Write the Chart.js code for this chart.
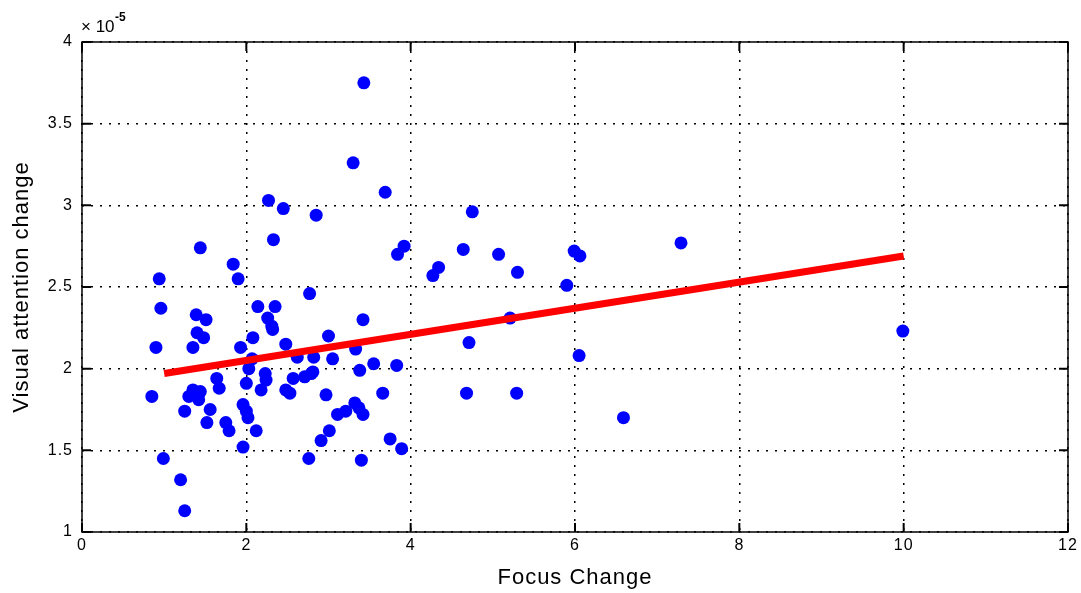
<!DOCTYPE html>
<html>
<head>
<meta charset="utf-8">
<script src="https://cdn.jsdelivr.net/npm/chart.js@4.4.1/dist/chart.umd.min.js"></script>
<style>
  html, body { margin: 0; padding: 0; background: #fff; }
  #wrap { width: 1081px; height: 593px; }
</style>
</head>
<body>
<div id="wrap"><canvas id="chartfoco" width="1081" height="593"></canvas></div>
<script>
// values of visual attention are in units of 1e-5 (shown as "x 10^-5" on the axis)
const focusChange = [
  0.85, 0.90, 0.94, 0.96, 0.99, 1.20, 1.25, 1.25, 1.30, 1.35,
  1.35, 1.39, 1.40, 1.42, 1.44, 1.44, 1.48, 1.51, 1.52, 1.56,
  1.64, 1.67, 1.75, 1.79, 1.84, 1.90, 1.93, 1.96, 1.96, 2.00,
  2.00, 2.02, 2.03, 2.07, 2.08, 2.12, 2.14, 2.18, 2.23, 2.24,
  2.26, 2.27, 2.31, 2.32, 2.33, 2.35, 2.45, 2.48, 2.48, 2.53,
  2.57, 2.62, 2.71, 2.76, 2.77, 2.79, 2.81, 2.82, 2.85, 2.91,
  2.97, 3.00, 3.01, 3.05, 3.11, 3.21, 3.30, 3.32, 3.33, 3.37,
  3.38, 3.40, 3.42, 3.42, 3.43, 3.55, 3.66, 3.69, 3.75, 3.83,
  3.84, 3.89, 3.92, 4.27, 4.34, 4.64, 4.68, 4.71, 4.75, 5.07,
  5.21, 5.29, 5.30, 5.90, 5.99, 6.05, 6.06, 6.59, 7.29, 9.99
]
const attentionChange = [
  1.83, 2.13, 2.55, 2.37, 1.45, 1.32, 1.13, 1.74, 1.83, 2.13,
  1.87, 2.33, 2.22, 1.81, 1.86, 2.74, 2.19, 2.30, 1.67, 1.75,
  1.94, 1.88, 1.67, 1.62, 2.64, 2.55, 2.13, 1.52, 1.78, 1.74,
  1.91, 1.70, 2.00, 2.06, 2.19, 1.62, 2.38, 1.87, 1.97, 1.93,
  2.31, 3.03, 2.26, 2.24, 2.79, 2.38, 2.98, 2.15, 1.87, 1.85,
  1.94, 2.07, 1.95, 1.45, 2.46, 1.97, 1.98, 2.07, 2.94, 1.56,
  1.84, 2.20, 1.62, 2.06, 1.72, 1.74, 3.26, 1.79, 2.12, 1.76,
  1.99, 1.44, 1.72, 2.30, 3.75, 2.03, 1.85, 3.08, 1.57, 2.02,
  2.70, 1.51, 2.75, 2.57, 2.62, 2.73, 1.85, 2.16, 2.96, 2.70,
  2.31, 1.85, 2.59, 2.51, 2.72, 2.08, 2.69, 1.70, 2.77, 2.23
]
const fitX = [1.0, 10.0]
const fitY = [1.97, 2.69]
const xTicks = [0, 2, 4, 6, 8, 10, 12]
const yTicks = [1, 1.5, 2, 2.5, 3, 3.5, 4]

const fuente = '"Liberation Sans", Arial, sans-serif'

// MATLAB style box, inward ticks and the exponent label
const marcoPlugin = {
  id: 'marco',
  beforeDraw(chart) {
    // the original text is wide, spread the letters a bit
    chart.ctx.letterSpacing = '1px'
  },
  afterDraw(chart) {
    const { ctx, chartArea: a, scales } = chart
    ctx.save()
    ctx.strokeStyle = '#000'
    ctx.lineWidth = 1.5
    ctx.strokeRect(a.left, a.top, a.right - a.left, a.bottom - a.top)
    const tl = 9
    ctx.lineWidth = 2
    ctx.beginPath()
    xTicks.forEach(v => {
      const x = scales.x.getPixelForValue(v)
      ctx.moveTo(x, a.bottom); ctx.lineTo(x, a.bottom - tl)
      ctx.moveTo(x, a.top); ctx.lineTo(x, a.top + tl)
    })
    yTicks.forEach(v => {
      const y = scales.y.getPixelForValue(v)
      ctx.moveTo(a.left, y); ctx.lineTo(a.left + tl, y)
      ctx.moveTo(a.right, y); ctx.lineTo(a.right - tl, y)
    })
    ctx.stroke()
    ctx.fillStyle = '#000'
    ctx.textBaseline = 'alphabetic'
    ctx.textAlign = 'left'
    ctx.font = '17px ' + fuente
    ctx.letterSpacing = '0px'
    ctx.fillText('\u00d7 10', a.left - 1, a.top - 10)
    ctx.font = 'bold 12px ' + fuente
    ctx.fillText('-5', a.left + 33, a.top - 21)
    ctx.restore()
  }
}

const canvas = document.getElementById('chartfoco')
const context = canvas.getContext('2d')

const chartFoco = new Chart(context, {
  type: 'scatter',
  data: {
    datasets: [
      {
        label: 'Datos',
        data: focusChange.map((x, i) => ({ x: x, y: attentionChange[i] })),
        backgroundColor: '#0000ff',
        borderColor: '#0000ff',
        pointRadius: 6.5,
        pointStyle: 'circle',
        borderWidth: 0,
        order: 2
      },
      {
        label: 'Ajuste',
        type: 'line',
        data: fitX.map((x, i) => ({ x: x, y: fitY[i] })),
        borderColor: '#ff0000',
        borderWidth: 7,
        pointRadius: 0,
        fill: false,
        order: 1
      }
    ]
  },
  options: {
    responsive: false,
    animation: false,
    devicePixelRatio: 1,
    layout: { padding: { top: 42, right: 13, bottom: 0, left: 0 } },
    plugins: {
      legend: { display: false },
      tooltip: { enabled: false }
    },
    scales: {
      x: {
        type: 'linear',
        min: 0,
        max: 12,
        afterBuildTicks: s => { s.ticks = xTicks.map(v => ({ value: v })) },
        afterFit: s => { s.height = 61 },
        ticks: { color: '#000', font: { family: fuente, size: 16 }, padding: 4, callback: v => String(v) },
        grid: { color: '#000', lineWidth: 1.5, drawTicks: false },
        border: { display: false, dash: [2, 7] },
        title: {
          display: true,
          text: 'Focus Change',
          color: '#000',
          font: { family: fuente, size: 22 },
          padding: { top: 0, bottom: 2 }
        }
      },
      y: {
        type: 'linear',
        min: 1,
        max: 4,
        afterBuildTicks: s => { s.ticks = yTicks.map(v => ({ value: v })) },
        afterFit: s => { s.width = 82 },
        ticks: { color: '#000', font: { family: fuente, size: 16 }, padding: 9, callback: v => String(v) },
        grid: { color: '#000', lineWidth: 1.5, drawTicks: false },
        border: { display: false, dash: [2, 7] },
        title: {
          display: true,
          text: 'Visual attention change',
          color: '#000',
          font: { family: fuente, size: 22 },
          padding: { top: 9, bottom: 0 }
        }
      }
    }
  },
  plugins: [marcoPlugin]
})
</script>
</body>
</html>
